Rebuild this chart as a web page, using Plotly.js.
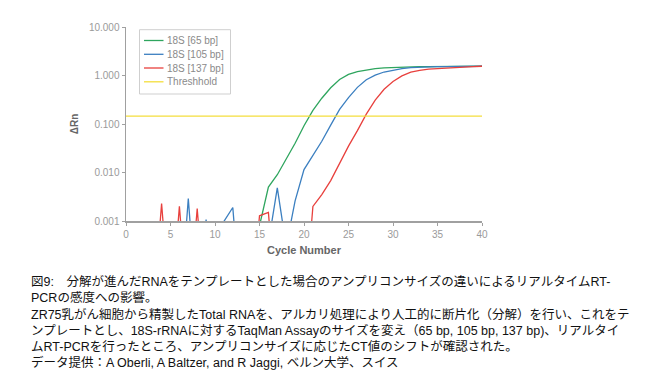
<!DOCTYPE html>
<html>
<head>
<meta charset="utf-8">
<script src="https://cdn.plot.ly/plotly-3.0.1.min.js"></script>
<style>
html,body{margin:0;padding:0;background:#fff;}
#chart{width:662px;height:385px;}
</style>
</head>
<body>
<div id="chart"></div>
<script>
// ---- data ----
const cycles = [1,2,3,4,5,6,7,8,9,10,11,12,13,14,15,16,17,18,19,20,21,22,23,24,25,26,27,28,29,30,31,32,33,34,35,36,37,38,39,40];
const rn65 = [0.00001,0.00001,0.00001,0.00001,0.00001,0.00001,0.00001,0.00001,0.00001,0.00001,
              0.00001,0.00001,0.00001,0.00001,0.0008,0.005,0.009,0.019,0.04,0.092,
              0.19,0.34,0.56,0.83,1.05,1.2,1.31,1.38,1.43,1.46,
              1.49,1.51,1.52,1.53,1.53,1.54,1.54,1.54,1.55,1.55];
const rn105 = [0.00001,0.00001,0.00001,0.00001,0.00001,0.00001,0.0029,0.00001,0.00107,0.00001,
               0.00098,0.0019,0.00001,0.00001,0.00001,0.00035,0.0048,0.0003,0.0026,0.0115,
               0.023,0.044,0.095,0.2,0.35,0.57,0.82,1.02,1.18,1.3,
               1.39,1.45,1.49,1.51,1.52,1.53,1.54,1.54,1.55,1.55];
const rn137 = [0.00001,0.00001,0.00001,0.0023,0.00001,0.002,0.00001,0.0018,0.00001,0.00001,
               0.00001,0.00001,0.00001,0.00001,0.00128,0.0015,0.00001,0.00001,0.00001,0.00001,
               0.002,0.0035,0.0068,0.016,0.035,0.073,0.16,0.31,0.52,0.75,
               0.98,1.17,1.28,1.35,1.39,1.43,1.46,1.49,1.52,1.55];
const thresholdX = [0, 40];
const thresholdY = [0.146, 0.146];
const seriesNames = ['18S [65 bp]', '18S [105 bp]', '18S [137 bp]', 'Threshhold'];
const xTickVals = [0,5,10,15,20,25,30,35,40];
const yTickVals = [0.001,0.01,0.1,1,10];
const yTickText = ['0.001','0.010','0.100','1.000','10.000'];
const captionLines = [
  '図9:　分解が進んだRNAをテンプレートとした場合のアンプリコンサイズの違いによるリアルタイムRT-',
  'PCRの感度への影響。',
  'ZR75乳がん細胞から精製したTotal RNAを、アルカリ処理により人工的に断片化（分解）を行い、これをテ',
  'ンプレートとし、18S-rRNAに対するTaqMan Assayのサイズを変え（65 bp, 105 bp, 137 bp)、リアルタイ',
  'ムRT-PCRを行ったところ、アンプリコンサイズに応じたCT値のシフトが確認された。',
  'データ提供：A Oberli, A Baltzer, and R Jaggi, ベルン大学、スイス'
];

// ---- styles ----
const colors = ['#2ea55e', '#3b7fc0', '#e8403d', '#f4de3c'];
const L = 126, R = 482, T = 27, B = 221;
const W = 662, H = 385;
const px = v => (v - L) / (R - L);
const py = v => (B - v) / (B - T);

const ys = [rn65, rn105, rn137];
const traces = ys.map((y, i) => ({
  x: cycles, y: y, type: 'scatter', mode: 'lines', name: seriesNames[i],
  line: {color: colors[i], width: 1.3}, showlegend: false, hoverinfo: 'skip'
}));
traces.push({
  x: thresholdX, y: thresholdY, type: 'scatter', mode: 'lines', name: seriesNames[3],
  line: {color: colors[3], width: 1.3}, showlegend: false, hoverinfo: 'skip'
});

// manual legend (compact spacing as in reference)
const shapes = [{
  type: 'rect', xref: 'paper', yref: 'paper',
  x0: px(139.5), x1: px(230.5), y0: py(94), y1: py(29.7),
  line: {color: '#cfcfcf', width: 1}, fillcolor: 'rgba(255,255,255,1)', layer: 'above'
}];
const annotations = [];
const rowY = [40.5, 54.3, 68, 81.8];
seriesNames.forEach((n, i) => {
  shapes.push({type: 'line', xref: 'paper', yref: 'paper',
    x0: px(144), x1: px(163.5), y0: py(rowY[i]), y1: py(rowY[i]),
    line: {color: colors[i], width: 1.3}, layer: 'above'});
  annotations.push({xref: 'paper', yref: 'paper', x: px(164.5), y: py(rowY[i]),
    xanchor: 'left', yanchor: 'middle', showarrow: false, text: n,
    font: {family: 'Liberation Sans, Arial, sans-serif', size: 10, color: '#8a8a8a'}});
});

annotations.push({xref: 'paper', yref: 'paper', x: px(30), y: py(272.5),
  xanchor: 'left', yanchor: 'top', showarrow: false, align: 'left', borderpad: 0,
  text: captionLines.join('<br>'),
  font: {family: 'Liberation Sans, Noto Sans CJK JP, sans-serif', size: 12.5, color: '#111'}});

const axisFont = {family: 'Liberation Sans, Arial, sans-serif', size: 10, color: '#9a9a9a'};
const layout = {
  width: W, height: H,
  margin: {l: L, r: W - R, t: T, b: H - B, pad: 0},
  paper_bgcolor: '#fff', plot_bgcolor: '#fff',
  showlegend: false,
  xaxis: {
    range: [0, 40], tickvals: xTickVals, showgrid: false, zeroline: false,
    showline: true, linecolor: '#a0a0a0', linewidth: 1.5,
    ticks: 'outside', ticklen: 3, tickcolor: '#a0a0a0', tickwidth: 1,
    tickfont: axisFont,
    title: {text: 'Cycle Number', standoff: 8,
      font: {family: 'Liberation Sans, Arial, sans-serif', size: 11, color: '#666', weight: 'bold'}}
  },
  yaxis: {
    type: 'log', range: [-3, 1], tickvals: yTickVals, ticktext: yTickText,
    showgrid: false, zeroline: false,
    showline: true, linecolor: '#a0a0a0', linewidth: 1.5,
    ticks: 'outside', ticklen: 3, tickcolor: '#a0a0a0', tickwidth: 1,
    tickfont: axisFont,
    title: {text: 'ΔRn', standoff: 8,
      font: {family: 'Liberation Sans, Arial, sans-serif', size: 10, color: '#666', weight: 'bold'}}
  },
  shapes: shapes,
  annotations: annotations
};

Plotly.newPlot('chart', traces, layout, {displayModeBar: false, staticPlot: true});
</script>
</body>
</html>
